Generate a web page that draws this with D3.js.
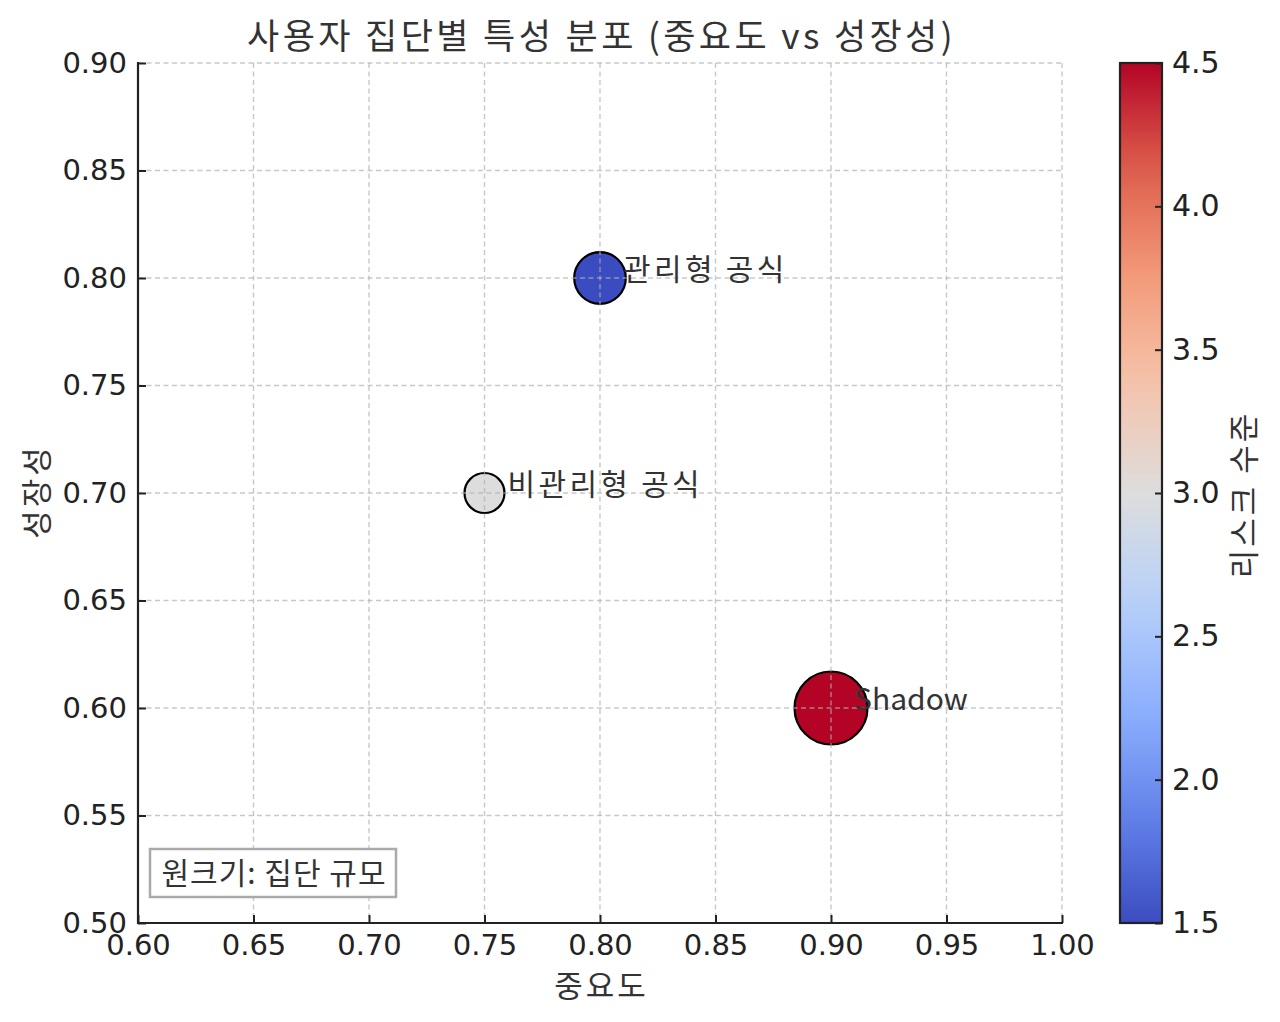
<!DOCTYPE html>
<html>
<head>
<meta charset="utf-8">
<script src="https://cdn.jsdelivr.net/npm/d3@7"></script>
<style>
  body { margin: 0; background: #fff; }
  svg text { font-family: "DejaVu Sans", sans-serif; fill: #222; }
  .kr { font-family: "Noto Sans CJK KR", "Noto Sans", sans-serif; }
</style>
</head>
<body>
<div id="chart"></div>
<script>
// data
var groups = ["관리형 공식", "비관리형 공식", "Shadow"];
var importance = [0.80, 0.75, 0.90];
var growth = [0.80, 0.70, 0.60];
var risk = [1.5, 3.0, 4.5];
var groupSize = [500, 300, 1000];

var xTicks = [0.60, 0.65, 0.70, 0.75, 0.80, 0.85, 0.90, 0.95, 1.00];
var yTicks = [0.50, 0.55, 0.60, 0.65, 0.70, 0.75, 0.80, 0.85, 0.90];
var cbTicks = [1.5, 2.0, 2.5, 3.0, 3.5, 4.0, 4.5];

// coolwarm stops
var coolwarmStops = ["#3b4cc0", "#6282ea", "#8db0fe", "#b8d0f9", "#dddddd", "#f5c4ac", "#f39b7a", "#de604d", "#b40426"];

var width = 1280, height = 1022;
var plot = {left: 138, right: 1062, top: 63, bottom: 923};
var cb = {left: 1120, right: 1162};

var svg = d3.select('#chart').append('svg').attr('width', width).attr('height', height);

var x = d3.scaleLinear().domain([0.6, 1.0]).range([plot.left, plot.right]);
var y = d3.scaleLinear().domain([0.5, 0.9]).range([plot.bottom, plot.top]);
var r = d3.scaleSqrt().domain([0, d3.max(groupSize)]).range([0, 36.5]);
var color = d3.scaleSequential(d3.piecewise(d3.interpolateRgb, coolwarmStops)).domain([1.5, 4.5]);

var data = groups.map(function(g, i){
    return {name: g, x: importance[i], y: growth[i], risk: risk[i], size: groupSize[i]};
});

// points
svg.append('g').selectAll('circle').data(data).enter()
  .append('circle')
  .attr('cx', d => x(d.x))
  .attr('cy', d => y(d.y))
  .attr('r', d => r(d.size))
  .attr('fill', d => color(d.risk))
  .attr('stroke', '#000')
  .attr('stroke-width', 2.2);

// grid (drawn over the points like the reference)
var grid = svg.append('g').attr('stroke', '#b0b0b0').attr('stroke-opacity', 0.7)
  .attr('stroke-width', 1.4).attr('stroke-dasharray', '5,3.5');
grid.selectAll('.gx').data(xTicks).enter().append('line')
  .attr('x1', d => x(d)).attr('x2', d => x(d))
  .attr('y1', plot.top).attr('y2', plot.bottom);
grid.selectAll('.gy').data(yTicks).enter().append('line')
  .attr('x1', plot.left).attr('x2', plot.right)
  .attr('y1', d => y(d)).attr('y2', d => y(d));

// labels
svg.append('g').selectAll('text').data(data).enter()
  .append('text')
  .attr('class', 'kr')
  .attr('x', d => x(d.x + 0.01))
  .attr('y', d => y(d.y + 0.005))
  .attr('dominant-baseline', 'central')
  .style('font-size', '30px')
  .style('letter-spacing', d => /[가-힣]/.test(d.name) ? '3.3px' : '0px')
  .style('fill', '#333')
  .text(d => d.name);

// axes (ticks point inward)
var xAxis = svg.append('g').attr('transform', `translate(0,${plot.bottom})`)
  .call(d3.axisBottom(x).tickValues(xTicks).tickFormat(d3.format('.2f')).tickSizeOuter(0).tickSizeInner(-8).tickPadding(11));
var yAxis = svg.append('g').attr('transform', `translate(${plot.left},0)`)
  .call(d3.axisLeft(y).tickValues(yTicks).tickFormat(d3.format('.2f')).tickSizeOuter(0).tickSizeInner(-8).tickPadding(11));
[xAxis, yAxis].forEach(function(a){
  a.select('.domain').attr('stroke', '#222').attr('stroke-width', 2.2);
  a.selectAll('.tick line').attr('stroke', '#222').attr('stroke-width', 2);
  a.selectAll('.tick text').style('font-size', '29px').style('fill', '#222').style('font-family', '"DejaVu Sans", sans-serif');
});
yAxis.select('.domain').attr('d', `M0,${plot.top - 1}V${plot.bottom + 1}`);
xAxis.select('.domain').attr('d', `M-1,0H${plot.right - plot.left + 1}`).attr('transform', `translate(${plot.left},0)`);

// axis titles
svg.append('text').attr('class', 'kr')
  .attr('x', (plot.left + plot.right) / 2 + 1.5).attr('y', 983)
  .attr('text-anchor', 'middle').attr('dominant-baseline', 'central')
  .style('font-size', '31px').style('letter-spacing', '3px').style('fill', '#333')
  .text('중요도');
svg.append('text').attr('class', 'kr')
  .attr('transform', `translate(34,${(plot.top + plot.bottom) / 2 - 1.5}) rotate(-90)`)
  .attr('text-anchor', 'middle').attr('dominant-baseline', 'central')
  .style('font-size', '31px').style('letter-spacing', '3px').style('fill', '#333')
  .text('성장성');

// title
svg.append('text').attr('class', 'kr')
  .attr('x', (plot.left + plot.right) / 2 + 1.5).attr('y', 33)
  .attr('text-anchor', 'middle').attr('dominant-baseline', 'central')
  .style('font-size', '35px').style('letter-spacing', '3.4px').style('fill', '#333')
  .text('사용자 집단별 특성 분포 (중요도 vs 성장성)');

// size note box
var note = svg.append('g');
note.append('rect').attr('x', 150).attr('y', 849).attr('width', 246).attr('height', 48)
  .attr('fill', '#fff').attr('stroke', '#aaa').attr('stroke-width', 2.5);
note.append('text').attr('class', 'kr')
  .attr('x', 274).attr('y', 871)
  .attr('text-anchor', 'middle').attr('dominant-baseline', 'central')
  .style('font-size', '30px').style('letter-spacing', '1px').style('fill', '#333')
  .text('원크기: 집단 규모');

// colorbar
var cy = d3.scaleLinear().domain([1.5, 4.5]).range([plot.bottom, plot.top]);
var defs = svg.append('defs');
var grad = defs.append('linearGradient').attr('id', 'cbgrad')
  .attr('x1', 0).attr('y1', 1).attr('x2', 0).attr('y2', 0);
d3.range(0, 1.0001, 0.05).forEach(function(t){
  grad.append('stop').attr('offset', t).attr('stop-color', color(1.5 + t * 3));
});
svg.append('rect').attr('x', cb.left).attr('y', plot.top)
  .attr('width', cb.right - cb.left).attr('height', plot.bottom - plot.top)
  .attr('fill', 'url(#cbgrad)').attr('stroke', '#222').attr('stroke-width', 2.2);
var cbAxis = svg.append('g').attr('transform', `translate(${cb.right},0)`)
  .call(d3.axisRight(cy).tickValues(cbTicks).tickFormat(d3.format('.1f')).tickSizeOuter(0).tickSizeInner(-7).tickPadding(10));
cbAxis.select('.domain').remove();
cbAxis.selectAll('.tick line').attr('stroke', '#222').attr('stroke-width', 2);
cbAxis.selectAll('.tick text').style('font-size', '30px').style('fill', '#222').style('font-family', '"DejaVu Sans", sans-serif');

svg.append('text').attr('class', 'kr')
  .attr('transform', `translate(1241,${(plot.top + plot.bottom) / 2 + 1.5}) rotate(-90)`)
  .attr('text-anchor', 'middle').attr('dominant-baseline', 'central')
  .style('font-size', '31px').style('letter-spacing', '3px').style('fill', '#333')
  .text('리스크 수준');
</script>
</body>
</html>
